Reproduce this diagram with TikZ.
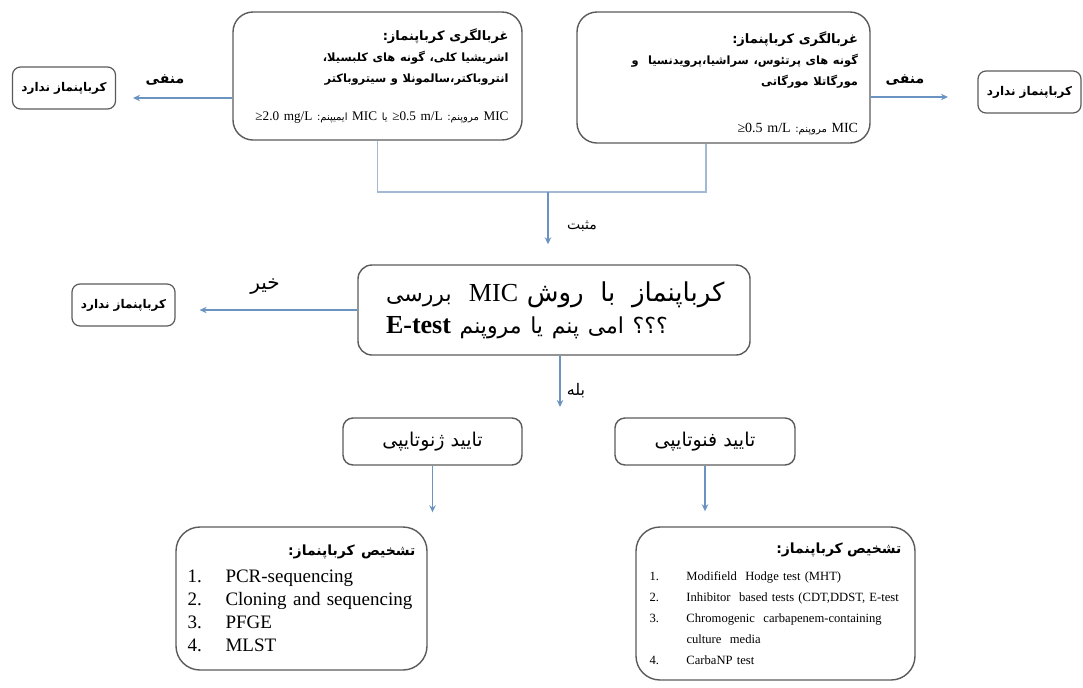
\documentclass[tikz,border=0pt]{standalone}
\usepackage{fontspec}
\setmainfont{Liberation Serif}
\newfontfamily\farsi[Script=Arabic]{DejaVu Sans}
\TeXXeTstate=1
\usetikzlibrary{arrows.meta}

\definecolor{boxgray}{HTML}{5A5A5A}
\definecolor{arrowblue}{HTML}{6A93C2}
\definecolor{joinblue}{HTML}{A3B9D3}

\newcommand{\pfa}{\farsi\fontsize{5}{9}\selectfont}
\newcommand{\pfb}{\farsi\bfseries\fontsize{5.7}{9}\selectfont}
\newcommand{\pft}{\farsi\bfseries\fontsize{6.5}{9}\selectfont}
\newcommand{\pfm}{\farsi\fontsize{11}{16}\selectfont}
\newcommand{\pfM}{\farsi\fontsize{13}{16}\selectfont}

\tikzset{
  box/.style={draw=boxgray, line width=0.7pt, rounded corners=10pt, inner sep=0pt},
  tagbox/.style={draw=boxgray, line width=0.6pt, rounded corners=4pt, inner sep=0pt,
    minimum width=51.5pt, minimum height=21pt, font=\farsi\bfseries\fontsize{6}{7}\selectfont},
  lbl/.style={inner sep=0pt, font=\farsi\fontsize{7}{8}\selectfont},
  link/.style={draw=arrowblue, line width=0.6pt, -{Stealth[length=3.5pt,width=3.2pt]}},
  mergeline/.style={draw=joinblue, line width=0.6pt},
}

\begin{document}
\begin{tikzpicture}[x=0.5pt,y=-0.5pt]
\useasboundingbox (0,0) rectangle (1083,687);

% screening
\node[box, minimum width=144.5pt, minimum height=64pt, text width=131pt, align=right,
  font=\fontsize{7}{10.5}\selectfont] (scrA) at (377.5,76) {%
  {\pft\beginR غربالگری کرباپنماز\kern0pt:\endR}\\
  {\pfb\beginR اشریشیا کلی\kern0pt، گونه های کلبسیلا\kern0pt،\endR}\\
  {\pfb\beginR انتروباکتر،سالمونلا و سیتروباکتر\endR}\\[8.5pt]
  \hbox to\hsize{\hss\fontsize{6.6}{9}\selectfont\beginR MIC {\pfa مروپنم\kern0pt:}\ \beginL≥0.5 m/L\endL\ {\pfa یا} MIC {\pfa ایمیپنم\kern0pt:}\ \beginL≥2.0 mg/L\endL\endR}};
\node[box, minimum width=146.5pt, minimum height=65.5pt, text width=134.5pt, align=right,
  font=\fontsize{7}{10.5}\selectfont] (scrB) at (723.5,77.5) {%
  \rule{0pt}{12pt}{\pft\beginR غربالگری کرباپنماز\kern0pt:\endR}\\
  {\pfb\beginR گونه های پرتئوس\kern0pt، سراشیا،پرویدنسیا\ \ و\endR}\\
  {\pfb\beginR مورگاتلا مورگاتی\endR}\\[13pt]
  \beginR MIC {\pfa مروپنم\kern0pt:}\ \beginL≥0.5 m/L\endL\endR};

\node[tagbox] (noA) at (64,88) {\beginR کرباپنماز ندارد\endR};
\node[tagbox] (noB) at (1029.5,92) {\beginR کرباپنماز ندارد\endR};
\coordinate (negA) at (133,98);
\coordinate (negB) at (948,97);
\draw[link] (scrA.west |- negA) -- (negA);
\draw[link] (scrB.east |- negB) -- (negB);
\node[lbl, font=\farsi\bfseries\fontsize{7}{8}\selectfont] (negAtxt) at (165,80) {منفی};
\node[lbl, font=\farsi\bfseries\fontsize{7}{8}\selectfont] (negBtxt) at (905,80) {منفی};

% merge
\coordinate (merge) at (548,192);
\draw[mergeline] (scrA.south) |- (merge) -| ([xshift=-8.75pt]scrB.south);

\node[box, rounded corners=7pt, minimum width=196pt, minimum height=45pt, text width=168pt,
  align=left, font=\fontsize{13}{16}\selectfont] (check) at (554,310) {%
  \mbox{{\pfm بررسی}\ \ MIC\ {\pfM\beginR کرباپنماز\hspace{4pt} با\hspace{4pt} روش\endR}}\\
  {\bfseries E-test} {\pfm\beginR امی پنم یا مروپنم\endR}\ {\pfm ؟؟؟}};
\draw[link, shorten >=10pt] (merge) -- (merge |- check.north);
\node[lbl] (postxt) at (582,226) {مثبت};

\node[tagbox] (noC) at (123.5,305) {\beginR کرباپنماز ندارد\endR};
\draw[link, shorten >=12pt] (check.west) -- (check.west -| noC.east);
\node[lbl, font=\farsi\fontsize{10}{11}\selectfont] (notxt) at (265,287) {خیر};

\coordinate (split) at (560,407);
\draw[link] (check.south -| split) -- (split);
\node[lbl, font=\farsi\fontsize{8}{9}\selectfont] (yestxt) at (576,391) {بله};

% confirmation
\node[box, rounded corners=5pt, minimum width=89.5pt, minimum height=23.5pt,
  font=\farsi\fontsize{9.5}{10}\selectfont] (geno) at (432.5,441.5) {\beginR تایید ژنوتایپی\endR};
\node[box, rounded corners=5pt, minimum width=90pt, minimum height=23.5pt,
  font=\farsi\fontsize{9.5}{10}\selectfont] (pheno) at (705,441.5) {\beginR تایید فنوتایپی\endR};

\node[box, rounded corners=12pt, minimum width=125.5pt, minimum height=71.5pt,
  text width=114pt, align=left, font=\fontsize{9.5}{11.5}\selectfont] (molec) at (301.5,598.5) {%
  \hspace*{\fill}{\farsi\bfseries\fontsize{7}{9}\selectfont\beginR تشخیص کرباپنماز\kern0pt:\endR}\\[2pt]
  \makebox[19pt][l]{1.}PCR-sequencing\\
  \makebox[19pt][l]{2.}Cloning and sequencing\\
  \makebox[19pt][l]{3.}PFGE\\
  \makebox[19pt][l]{4.}MLST};
\node[box, rounded corners=12pt, minimum width=139.5pt, minimum height=76.5pt,
  text width=126pt, align=left, font=\fontsize{6.3}{10.5}\selectfont] (assay) at (775.5,603.5) {%
  \hspace*{\fill}{\farsi\bfseries\fontsize{7}{9}\selectfont\beginR تشخیص کرباپنماز\kern0pt:\endR}\\[3pt]
  \makebox[18.5pt][l]{1.}Modifield\ \ Hodge test (MHT)\\
  \makebox[18.5pt][l]{2.}Inhibitor\ \ based tests (CDT,DDST,\ E-test\\
  \makebox[18.5pt][l]{3.}Chromogenic\ \ carbapenem-containing\\
  \hspace*{18.5pt}culture\ \ media\\
  \makebox[18.5pt][l]{4.}CarbaNP test};

\draw[link] (geno.south) -- ([yshift=7pt]geno.south |- molec.north);
\draw[link] (pheno.south) -- ([yshift=7.5pt]pheno.south |- assay.north);
\end{tikzpicture}
\end{document}
